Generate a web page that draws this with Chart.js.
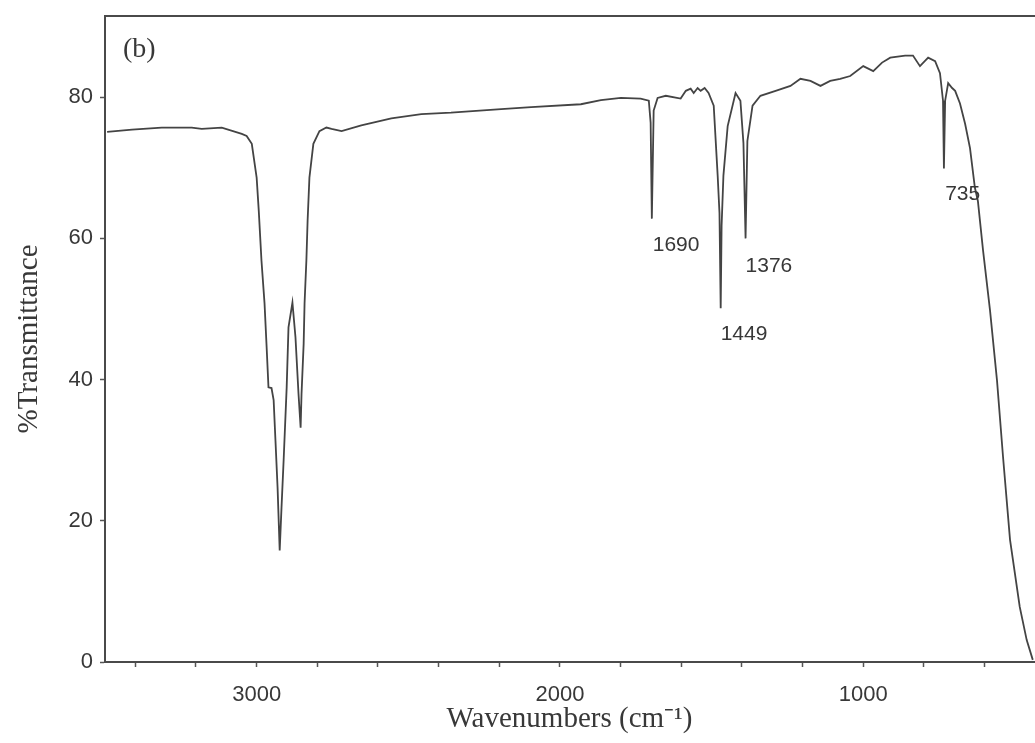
<!DOCTYPE html>
<html>
<head>
<meta charset="utf-8">
<script src="https://cdn.jsdelivr.net/npm/chart.js@4.4.1/dist/chart.umd.min.js"></script>
<style>
  html, body { margin: 0; padding: 0; background: #fff; }
  #wrap { width: 1035px; height: 743px; }
</style>
</head>
<body>
<div id="wrap"><canvas id="spectrum"></canvas></div>
<script>
// FTIR spectrum (b)
const wavenumbers = [
  3493, 3411, 3313, 3214, 3181, 3115, 3049, 3033, 3016, 3000,
  2993, 2984, 2974, 2967, 2961, 2951, 2944, 2938, 2931, 2924,
  2918, 2911, 2901, 2895, 2882, 2872, 2862, 2855, 2852, 2845,
  2842, 2836, 2832, 2826, 2813, 2793, 2770, 2753, 2720, 2655,
  2556, 2457, 2359, 2194, 2095, 1931, 1865, 1799, 1734, 1707,
  1701, 1697, 1691, 1678, 1651, 1602, 1585, 1569, 1559, 1546,
  1536, 1523, 1510, 1493, 1480, 1474, 1470, 1467, 1461, 1447,
  1421, 1405, 1395, 1388, 1382, 1365, 1339, 1289, 1240, 1207,
  1174, 1141, 1109, 1076, 1043, 1000, 967, 938, 911, 862,
  836, 813, 786, 763, 747, 737, 734, 730, 720, 707,
  697, 681, 664, 648, 632, 622, 605, 582, 559, 539,
  516, 484, 461, 441
]
const transmittance = [
  75.1, 75.4, 75.7, 75.7, 75.5, 75.7, 74.8, 74.5, 73.4, 68.6,
  63.9, 56.8, 50.8, 44.5, 38.9, 38.8, 37.1, 31.4, 24.7, 15.8,
  21.9, 28.6, 38.9, 47.4, 50.9, 46.0, 38.0, 33.2, 38.0, 45.1,
  50.8, 56.9, 62.5, 68.6, 73.4, 75.2, 75.7, 75.5, 75.2, 76.0,
  77.0, 77.6, 77.8, 78.3, 78.6, 79.0, 79.6, 79.9, 79.8, 79.5,
  76.4, 62.8, 78.1, 79.9, 80.2, 79.8, 80.9, 81.2, 80.6, 81.3,
  80.9, 81.3, 80.6, 78.8, 68.9, 63.6, 50.1, 61.8, 68.9, 75.9,
  80.6, 79.5, 73.5, 60.0, 73.8, 78.8, 80.2, 80.9, 81.6, 82.6,
  82.3, 81.6, 82.3, 82.6, 83.0, 84.4, 83.7, 84.9, 85.6, 85.9,
  85.9, 84.4, 85.6, 85.1, 83.4, 79.5, 69.9, 79.5, 82.0, 81.3,
  80.9, 79.1, 76.2, 72.8, 67.2, 65.3, 58.3, 49.8, 39.9, 29.0,
  17.3, 7.8, 3.1, 0.3
]

// peak labels, placed in data coordinates (wavenumber, %T)
const peakLabels = ['1690', '1449', '1376', '735']
const peakLabelX = [1694, 1470, 1388, 730]
const peakLabelY = [59.0, 46.4, 56.0, 66.2]

const yTicks = [0, 20, 40, 60, 80]
const xLabelTicks = [3000, 2000, 1000]

const ink = '#383838'

const spectrumDecor = {
  id: 'spectrumDecor',
  afterDraw(chart) {
    const { ctx, chartArea, scales } = chart
    ctx.save()
    // top frame line
    ctx.strokeStyle = '#4a4a4a'
    ctx.lineWidth = 2
    ctx.beginPath()
    ctx.moveTo(chartArea.left - 1, chartArea.top)
    ctx.lineTo(chart.width, chartArea.top)
    ctx.stroke()

    ctx.fillStyle = ink
    ctx.textBaseline = 'middle'
    ctx.textAlign = 'left'
    ctx.font = '28px "Liberation Serif", serif'
    ctx.fillText('(b)', chartArea.left + 18, chartArea.top + 34)

    ctx.font = '21px "Liberation Sans", Arial, sans-serif'
    peakLabels.forEach((t, i) => {
      ctx.fillText(t, scales.x.getPixelForValue(peakLabelX[i]), scales.y.getPixelForValue(peakLabelY[i]))
    })
    ctx.restore()
  }
}

const tickFont = { family: '"Liberation Sans", Arial, sans-serif', size: 22 }
const titleFont = { family: '"Liberation Serif", "Times New Roman", serif', size: 29 }

/* eslint-disable no-new */
new Chart(document.getElementById('spectrum'), {
  type: 'line',
  data: {
    datasets: [{
      label: '%T',
      data: wavenumbers.map((w, i) => ({ x: w, y: transmittance[i] })),
      borderColor: '#444',
      borderWidth: 1.8,
      pointRadius: 0,
      tension: 0,
      fill: false
    }]
  },
  options: {
    responsive: true,
    maintainAspectRatio: false,
    animation: false,
    devicePixelRatio: 1,
    layout: { padding: { top: 16, right: 1, left: 0, bottom: 0 } },
    plugins: {
      legend: { display: false },
      tooltip: { enabled: false }
    },
    scales: {
      x: {
        type: 'linear',
        reverse: true,
        min: 437,
        max: 3500,
        afterFit(scale) {
          scale.height = 81
          scale.paddingLeft = 0
          scale.paddingRight = 0
        },
        ticks: {
          stepSize: 200,
          includeBounds: false,
          autoSkip: false,
          maxRotation: 0,
          padding: 15,
          color: ink,
          font: tickFont,
          callback: (v) => (xLabelTicks.includes(v) ? String(v) : '')
        },
        grid: { drawOnChartArea: false, tickLength: 5, color: '#555', tickWidth: 1.5 },
        border: { color: '#4a4a4a', width: 2 },
        title: {
          display: true,
          text: 'Wavenumbers (cm\u207B\u00B9)',
          color: ink,
          font: titleFont,
          padding: { top: 0, bottom: 6 }
        }
      },
      y: {
        min: 0,
        max: 91.5,
        afterFit(scale) {
          scale.width = 105
          scale.paddingTop = 0
          scale.paddingBottom = 0
        },
        afterBuildTicks(scale) { scale.ticks = yTicks.map((v) => ({ value: v })) },
        ticks: {
          padding: 7,
          color: ink,
          font: tickFont
        },
        grid: { drawOnChartArea: false, tickLength: 5, color: '#555', tickWidth: 1.5 },
        border: { color: '#4a4a4a', width: 2 },
        title: {
          display: true,
          text: '%Transmittance',
          color: ink,
          font: titleFont,
          padding: { top: 12, bottom: 0 }
        }
      }
    }
  },
  plugins: [spectrumDecor]
})
</script>
</body>
</html>
